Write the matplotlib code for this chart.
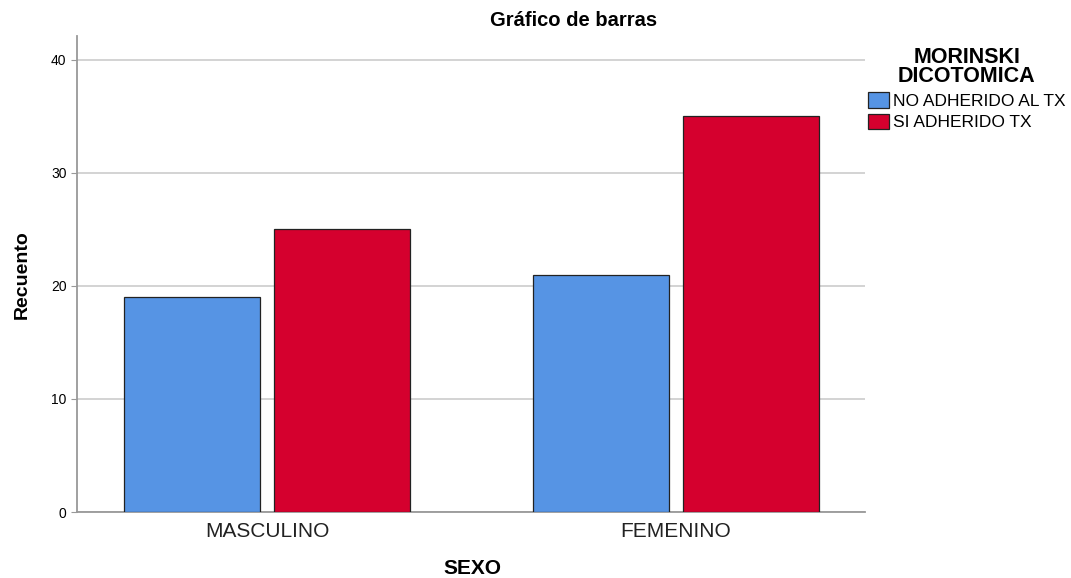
import numpy as np
import matplotlib
matplotlib.use("Agg")
import matplotlib.pyplot as plt
from matplotlib.patches import Patch

# data
categories = ["MASCULINO", "FEMENINO"]
series_names = ["NO ADHERIDO AL TX", "SI ADHERIDO TX"]
no_adherido = [19, 21]
si_adherido = [25, 35]
colors = ["#5694e4", "#d5002e"]

plt.rcParams['font.family'] = ['Liberation Sans', 'DejaVu Sans']

fig = plt.figure(figsize=(10.71, 5.78), dpi=100)
ax = fig.add_axes([77 / 1071, 66 / 578, 788 / 1071, 476 / 578])

x = np.arange(len(categories))
w = 0.333
ax.bar(x - 0.184, no_adherido, w, color=colors[0], edgecolor="#222222", linewidth=0.9, zorder=3)
ax.bar(x + 0.184, si_adherido, w, color=colors[1], edgecolor="#222222", linewidth=0.9, zorder=3)

ax.set_xlim(-0.465, 1.462)
ax.set_ylim(0, 42.1)
ax.set_yticks([0, 10, 20, 30, 40])
ax.set_xticks(x)
ax.set_xticklabels(categories, fontsize=15, color="#222222")
ax.tick_params(axis="y", labelsize=10, length=4, color="#999999")
ax.tick_params(axis="x", length=0, pad=7)
ax.yaxis.grid(True, color="#cccccc", linewidth=1.2, zorder=0)

for s in ["top", "right"]:
    ax.spines[s].set_visible(False)
for s in ["left", "bottom"]:
    ax.spines[s].set_color("#999999")
    ax.spines[s].set_linewidth(1.3)

fig.text(574 / 1071, 1 - 20 / 578, "Gráfico de barras", ha="center", va="center",
         fontsize=14.5, fontweight="bold")
fig.text(22 / 1071, 1 - 275 / 578, "Recuento", rotation=90, ha="center", va="center",
         fontsize=14, fontweight="bold")
fig.text(472 / 1071, 1 - 568 / 578, "SEXO", ha="center", va="center",
         fontsize=15, fontweight="bold")

handles = [Patch(facecolor=c, edgecolor="#222222", linewidth=0.9) for c in colors]
leg = fig.legend(handles, series_names, title="MORINSKI\nDICOTOMICA",
                 loc="upper left", bbox_to_anchor=(861 / 1071, 1 - 40 / 578),
                 frameon=False, fontsize=12.5, handlelength=1.2, handleheight=1.0,
                 handletextpad=0.25, labelspacing=0.28, borderaxespad=0,
                 alignment="center")
leg.get_title().set_fontweight("bold")
leg.get_title().set_fontsize(15.5)
leg.get_title().set_linespacing(0.9)
leg.get_title().set_multialignment("center")

fig.savefig("out.png", dpi=100)
